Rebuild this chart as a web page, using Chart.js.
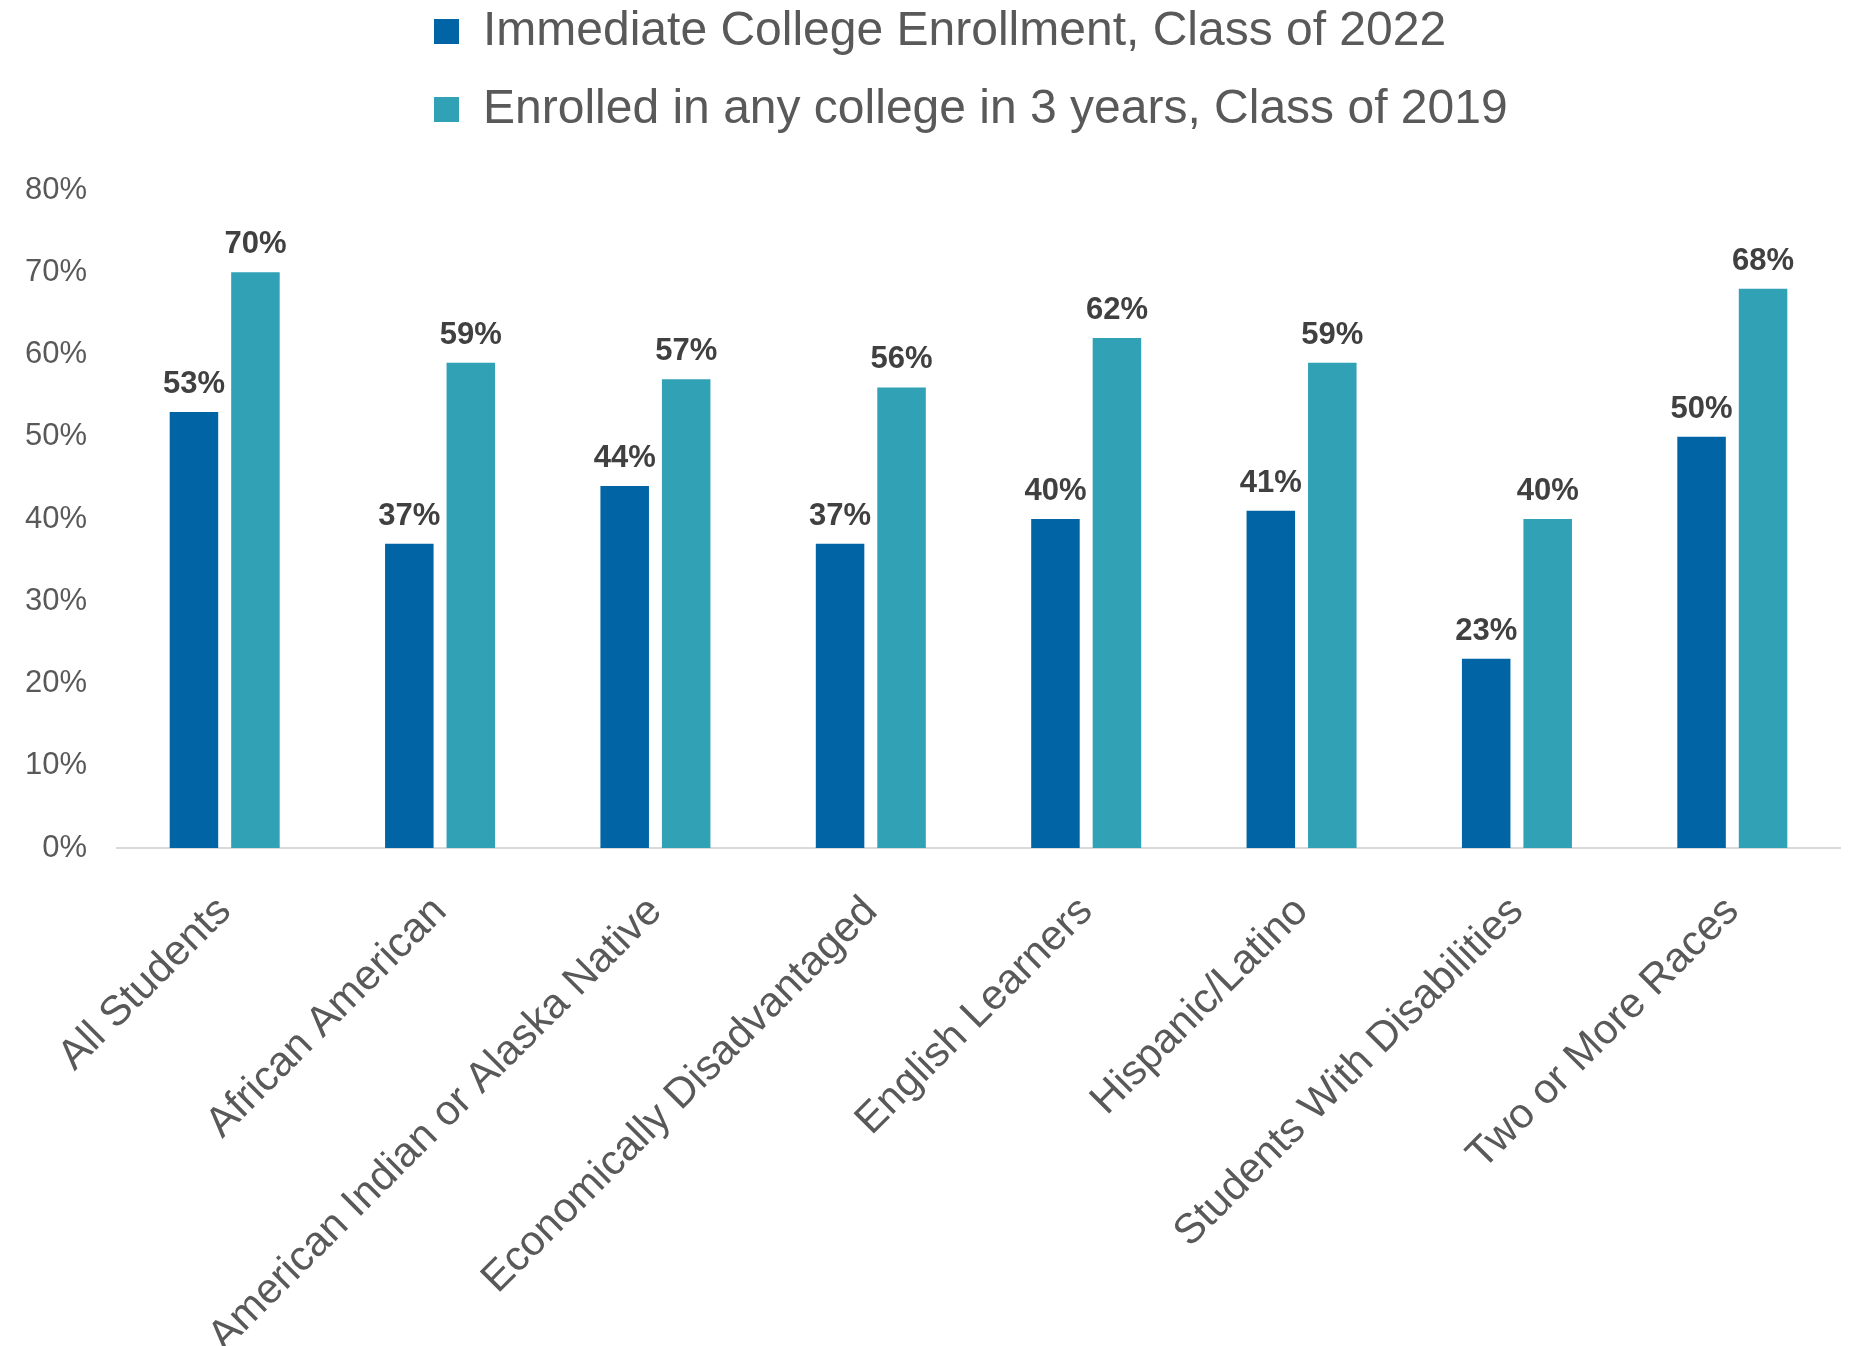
<!DOCTYPE html>
<html>
<head>
<meta charset="utf-8">
<script src="https://cdn.jsdelivr.net/npm/chart.js@4.4.1/dist/chart.umd.min.js"></script>
<style>
  html, body { margin: 0; padding: 0; background: #ffffff; }
  canvas { display: block; }
</style>
</head>
<body>
<canvas id="c" width="1850" height="1346"></canvas>
<script>
// ---- data ----
const categories = [
  "All Students",
  "African American",
  "American Indian or Alaska Native",
  "Economically Disadvantaged",
  "English Learners",
  "Hispanic/Latino",
  "Students With Disabilities",
  "Two or More Races"
];
const seriesNames = [
  "Immediate College Enrollment, Class of 2022",
  "Enrolled in any college in 3 years, Class of 2019"
];
const immediate2022 = [53, 37, 44, 37, 40, 41, 23, 50];
const anyCollege2019 = [70, 59, 57, 56, 62, 59, 40, 68];
const yTicks = [0, 10, 20, 30, 40, 50, 60, 70, 80];

// ---- styles ----
const FONT = '"Liberation Sans", Arial, Helvetica, sans-serif';
const COLORS = ['#0064A5', '#31A1B5'];
const TEXT_GRAY = '#595959';
const LABEL_DARK = '#404040';

const valueLabels = {
  id: 'valueLabels',
  afterDatasetsDraw(chart) {
    const ctx = chart.ctx;
    ctx.save();
    ctx.font = 'bold 31px ' + FONT;
    ctx.fillStyle = LABEL_DARK;
    ctx.textAlign = 'center';
    ctx.textBaseline = 'alphabetic';
    chart.data.datasets.forEach((ds, di) => {
      const meta = chart.getDatasetMeta(di);
      meta.data.forEach((bar, i) => {
        ctx.fillText(ds.data[i] + '%', bar.x, bar.y - 19);
      });
    });
    ctx.restore();
  }
};

const legendPlacement = {
  id: 'legendPlacement',
  afterLayout(chart) {
    const lg = chart.legend;
    if (!lg) return;
    lg.left = 404;
    lg.right = 1850;
    lg.top = -22.5;
    lg.bottom = lg.top + lg.height;
  }
};

new Chart(document.getElementById('c'), {
  type: 'bar',
  data: {
    labels: categories,
    datasets: [
      { label: seriesNames[0], data: immediate2022, backgroundColor: COLORS[0], borderWidth: 0,
        categoryPercentage: 0.571, barPercentage: 0.789 },
      { label: seriesNames[1], data: anyCollege2019, backgroundColor: COLORS[1], borderWidth: 0,
        categoryPercentage: 0.571, barPercentage: 0.789 }
    ]
  },
  options: {
    responsive: false,
    animation: false,
    devicePixelRatio: 1,
    layout: { padding: { top: 24, right: 10, left: 0, bottom: 0 } },
    plugins: {
      tooltip: { enabled: false },
      legend: {
        position: 'top',
        align: 'start',
        labels: {
          font: { family: FONT, size: 48 },
          color: TEXT_GRAY,
          boxWidth: 25,
          boxHeight: 25,
          padding: 30
        }
      }
    },
    scales: {
      x: {
        grid: { display: false, drawTicks: false },
        border: { display: true, color: '#D9D9D9', width: 2 },
        ticks: {
          autoSkip: false,
          minRotation: 45,
          maxRotation: 45,
          padding: 39,
          color: TEXT_GRAY,
          font: { family: FONT, size: 42 }
        },
        afterFit(scale) { scale.height = 498; }
      },
      y: {
        min: 0,
        max: 80,
        grid: { display: false, drawTicks: false },
        border: { display: false },
        afterBuildTicks(scale) { scale.ticks = yTicks.map(v => ({ value: v })); },
        ticks: {
          padding: 30,
          color: TEXT_GRAY,
          font: { family: FONT, size: 31 },
          callback: (v) => v + '%'
        },
        afterFit(scale) { scale.width = 117; }
      }
    }
  },
  plugins: [valueLabels, legendPlacement]
});
</script>
</body>
</html>
